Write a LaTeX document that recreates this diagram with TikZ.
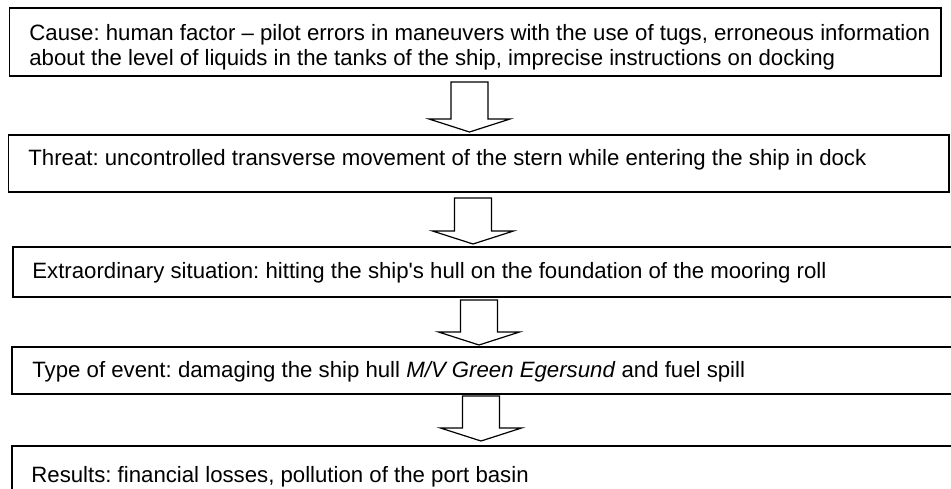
\documentclass[tikz,border=0pt]{standalone}
\usepackage{fontspec}
\setmainfont{Liberation Sans}
\frenchspacing

\def\arrowShaftHalf{9.25}
\def\arrowHeadHalf{20.25}
\def\arrowHeadLength{6.5}

\tikzset{
    stage/.style = {draw, line width = 0.6pt, rectangle, anchor = north west,
        inner sep = 0pt, outer sep = 0pt},
    stage text/.style = {anchor = base west, inner sep = 0pt, align = left,
        font = \fontsize{11.1pt}{12.5pt}\selectfont},
    block arrow/.style = {line width = 0.6pt, line join = miter},
}

\begin{document}
\begin{tikzpicture}[x = 1pt, y = 1pt]
            \useasboundingbox (0,0) rectangle (475.5,-244);
            %% stage boxes
            \node [stage, minimum width = 465.75pt, minimum height = 34pt]
            (cause) at (4.75,-4) {};
            \node [stage, minimum width = 470.35pt, minimum height = 28.5pt]
            (threat) at (4.15,-67.5) {};
            \node [stage, minimum width = 480pt, minimum height = 25pt]
            (situation) at (6.5,-123.5) {};
            \node [stage, minimum width = 480pt, minimum height = 23.5pt]
            (event) at (6,-173.5) {};
            \node [stage, minimum width = 480pt, minimum height = 30pt]
            (results) at (6,-223) {};
            %% texts of the stages (base = last line)
            \node [stage text] (cause label) at (14.5,-32.5) {
                Cause: human factor – pilot errors in maneuvers with the use of tugs, erroneous information\\
                about the level of liquids in the tanks of the ship, imprecise instructions on docking
            };
            \node [stage text] (threat label) at (14,-82.5) {
                Threat: uncontrolled transverse movement of the stern while entering the ship in dock
            };
            \node [stage text] (situation label) at (16,-139) {
                Extraordinary situation: hitting the ship\textquotesingle s hull on the foundation of the mooring roll
            };
            \node [stage text] (event label) at (16,-188.5) {
                Type of event: damaging the ship hull \textit{M/V Green Egersund} and fuel spill
            };
            \node [stage text] (results label) at (15.5,-241) {
                Results: financial losses, pollution of the port basin
            };
            %% block arrows between the stages
            \foreach \from/\to/\axisX/\gapTop/\gapTip in {
                cause/threat/234.75/3/1.5,
                threat/situation/236.5/3/1.5,
                situation/event/239.5/1.5/1,
                event/results/240.5/1/2.5} {
                \path (\axisX,0) coordinate (axis);
                \path (axis |- \from.south) ++(0,-\gapTop) coordinate (top);
                \path (axis |- \to.north) ++(0,\gapTip) coordinate (tip);
                \path (tip) ++(0,\arrowHeadLength) coordinate (base);
                \draw [block arrow]
                (top) ++(-\arrowShaftHalf,0)
                -- ++({2*\arrowShaftHalf},0) coordinate (tr)
                -- (tr |- base)
                -- ++({\arrowHeadHalf-\arrowShaftHalf},0)
                -- (tip)
                -- ++(-\arrowHeadHalf,\arrowHeadLength)
                -- ++({\arrowHeadHalf-\arrowShaftHalf},0)
                -- cycle
                ;
            }
\end{tikzpicture}
\end{document}
